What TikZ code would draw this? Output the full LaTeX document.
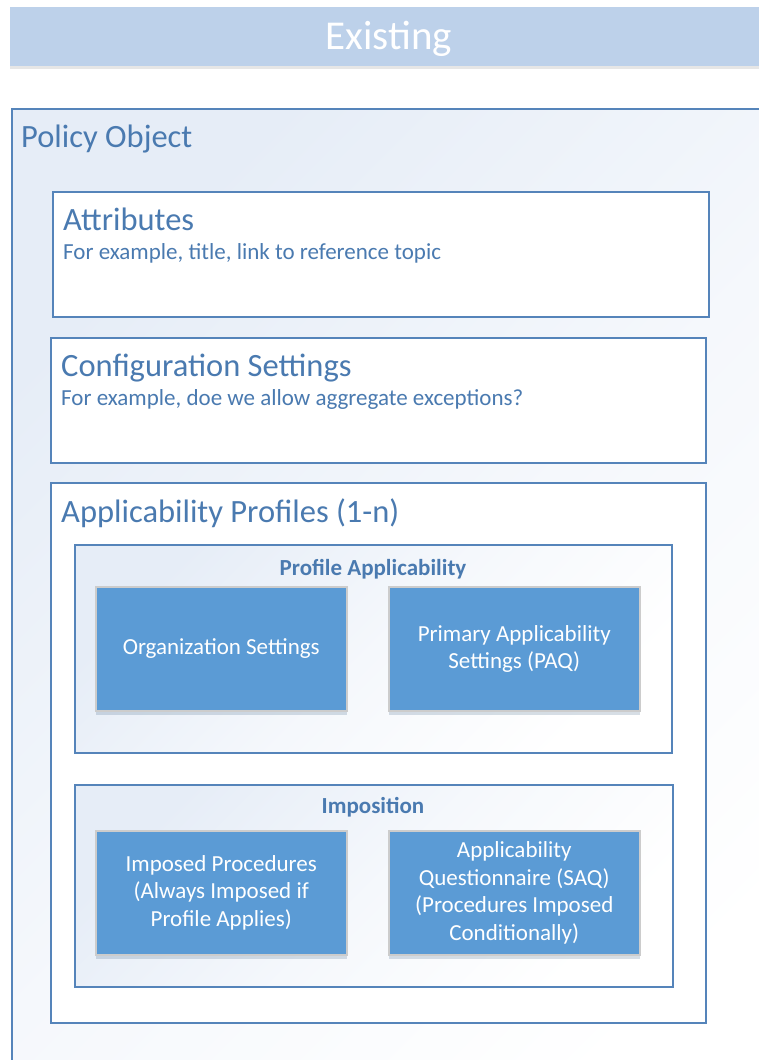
\documentclass[tikz,border=0pt]{standalone}
\usepackage{fontspec}
\setmainfont{Carlito}
\usetikzlibrary{positioning, shadows}

\definecolor{bandblue}{HTML}{BDD1EA}
\definecolor{edgeblue}{HTML}{5584BA}
\definecolor{textblue}{HTML}{4A7AB0}
\definecolor{cellblue}{HTML}{5B9BD5}
\definecolor{paleblue}{HTML}{E6EDF7}

\tikzset{
  frame/.style={rectangle, draw=edgeblue, line width=1.5pt, anchor=north west, inner sep=0pt},
  whitebox/.style={frame, fill=white},
  shadebox/.style={frame, top color=paleblue, bottom color=white, middle color=paleblue!40!white, shading angle=45},
  cell/.style={rectangle, draw=black!20, line width=1.5pt, fill=cellblue, text=white,
    align=center, anchor=north west, minimum width=251pt, minimum height=124pt,
    font=\fontsize{23}{27.5}\selectfont,
    drop shadow={shadow xshift=0pt, shadow yshift=-4pt, opacity=0.2, fill=cellblue!60!black}},
  heading/.style={anchor=base west, text=textblue, inner sep=0pt, font=\fontsize{32.5}{36}\selectfont},
  subline/.style={anchor=base west, text=textblue, inner sep=0pt, font=\fontsize{23}{27}\selectfont},
  grouplabel/.style={anchor=base, text=textblue, inner sep=0pt, font=\bfseries\fontsize{23}{27}\selectfont},
}

\begin{document}
\begin{tikzpicture}[x=1pt, y=-1pt]
  \useasboundingbox (0,0) rectangle (759,1060);

  % banner
  \node[rectangle, fill=bandblue, anchor=north west, inner sep=0pt, minimum width=800pt, minimum height=59pt,
    drop shadow={shadow xshift=0pt, shadow yshift=-3pt, opacity=0.2}] (banner) at (10,7) {};
  \node[text=white, anchor=base, inner sep=0pt, font=\fontsize{41}{44}\selectfont] (existing) at (389,49) {Existing};

  % policy object
  \node[shadebox, minimum width=820pt, minimum height=1000pt] (policy) at (11,108) {};
  \node[heading] (policytitle) at (21,147) {Policy Object};

  \node[whitebox, minimum width=656pt, minimum height=125pt] (attr) at (52,191) {};
  \node[heading] (attrtitle) at (63,230) {Attributes};
  \node[subline] (attrtext) at (63,259) {For example, title, link to reference topic};

  \node[whitebox, minimum width=655pt, minimum height=125pt] (config) at (50,337) {};
  \node[heading] (configtitle) at (61,376) {Configuration Settings};
  \node[subline] (configtext) at (61,405) {For example, doe we allow aggregate exceptions?};

  % applicability profiles
  \node[whitebox, minimum width=655pt, minimum height=540pt] (profiles) at (50,482) {};
  \node[heading] (profilestitle) at (61,522) {Applicability Profiles (1-n)};

  \node[shadebox, minimum width=597pt, minimum height=208pt] (profapp) at (74,544) {};
  \node[grouplabel] (profapplabel) at (373,575) {Profile Applicability};
  \node[cell] (org) at (95,586) {Organization Settings};
  \node[cell] (paq) at (388,586) {Primary Applicability\\Settings (PAQ)};

  \node[shadebox, minimum width=598pt, minimum height=202pt] (impos) at (74,784) {};
  \node[grouplabel] (imposlabel) at (373,813) {Imposition};
  \node[cell] (imposed) at (95,830) {Imposed Procedures\\(Always Imposed if\\Profile Applies)};
  \node[cell] (saq) at (388,830) {Applicability\\Questionnaire (SAQ)\\(Procedures Imposed\\Conditionally)};
\end{tikzpicture}
\end{document}
